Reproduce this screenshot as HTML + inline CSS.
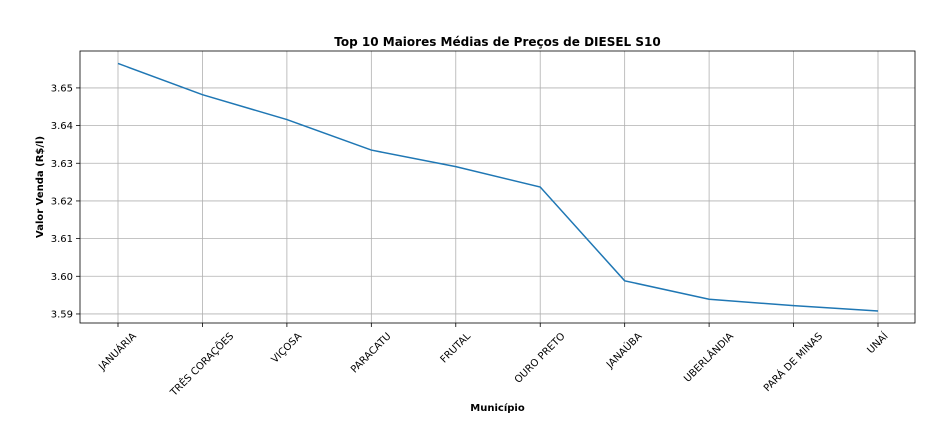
<!DOCTYPE html>
<html><head><meta charset="utf-8"><style>
body{margin:0;background:#fff;}
svg{display:block;font-family:"DejaVu Sans","Liberation Sans",sans-serif;}
</style></head><body>
<svg id="chart" width="952" height="448"></svg>
<script>
const categories=["JANUÁRIA","TRÊS CORAÇÕES","VIÇOSA","PARACATU","FRUTAL","OURO PRETO","JANAÚBA","UBERLÂNDIA","PARÁ DE MINAS","UNAÍ"];
const values=[3.6565,3.6482,3.6416,3.6335,3.6291,3.6237,3.5988,3.5939,3.5922,3.5908];
const yTicks=[3.59,3.60,3.61,3.62,3.63,3.64,3.65];
const yTickLabels=["3.59","3.60","3.61","3.62","3.63","3.64","3.65"];
const NS="http://www.w3.org/2000/svg";
const svg=document.getElementById('chart');
const L=80,R=915,T=51,B=323;
const yMin=3.5876,yMax=3.6598;
function xs(i){return 118+i*(878-118)/(categories.length-1);}
function ys(v){return B-(v-yMin)/(yMax-yMin)*(B-T);}
function mk(tag,attrs,parent){const e=document.createElementNS(NS,tag);for(const k in attrs)e.setAttribute(k,attrs[k]);(parent||svg).appendChild(e);return e;}
const grid=mk('g',{});


categories.forEach((c,i)=>{
  mk('line',{x1:xs(i),x2:xs(i),y1:T,y2:B,stroke:'#b0b0b0','stroke-width':0.8},grid);
  mk('line',{x1:xs(i),x2:xs(i),y1:B,y2:B+4,stroke:'#000','stroke-width':0.8});
  const t=mk('text',{x:0,y:0,'font-size':10,'text-anchor':'middle','dominant-baseline':'central'});
  t.textContent=c;
  
  
  const w=t.getComputedTextLength(),h=11;
  const bh=(w+h)*0.7071;
  t.setAttribute('transform',`translate(${xs(i)},${B+8+bh/2}) rotate(-45)`);
});
yTicks.forEach((v,i)=>{
  mk('line',{x1:L,x2:R,y1:ys(v),y2:ys(v),stroke:'#b0b0b0','stroke-width':0.8},grid);
  mk('line',{x1:L-4,x2:L,y1:ys(v),y2:ys(v),stroke:'#000','stroke-width':0.8});
  const t=mk('text',{x:L-7,y:ys(v)+3.5,'font-size':10,'text-anchor':'end'});
  t.textContent=yTickLabels[i];
  
  
});
const line=mk('polyline',{points:values.map((v,i)=>xs(i)+','+ys(v)).join(' '),fill:'none',stroke:'#1f77b4','stroke-width':1.5});


const frame=mk('rect',{x:L,y:T,width:R-L,height:B-T,fill:'none',stroke:'#000','stroke-width':0.8});


const title=mk('text',{x:(L+R)/2,y:46,'font-size':12,'font-weight':'bold','text-anchor':'middle'});
title.textContent='Top 10 Maiores Médias de Preços de DIESEL S10';


const xt=mk('text',{x:(L+R)/2,y:411,'font-size':10,'font-weight':'bold','text-anchor':'middle'});
xt.textContent='Município';


const yt=mk('text',{x:0,y:0,'font-size':10,'font-weight':'bold','text-anchor':'middle',transform:`translate(43,${(T+B)/2}) rotate(-90)`});
yt.textContent='Valor Venda (R$/l)';


</script>
</body></html>
